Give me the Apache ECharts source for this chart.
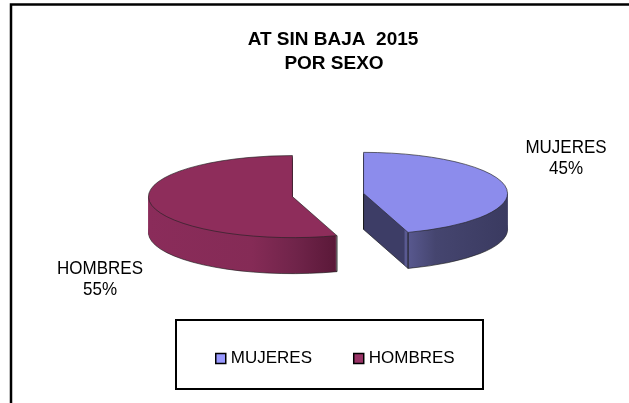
<!DOCTYPE html>
<html>
<head>
<meta charset="utf-8">
<script src="https://cdn.jsdelivr.net/npm/echarts@6/dist/echarts.min.js"></script>
<style>
html,body{margin:0;padding:0;background:#fff}
#main{width:629px;height:403px}
</style>
</head>
<body>
<div id="main"></div>
<script>
// datos
var categories = ['MUJERES', 'HOMBRES'];
var values = [45, 55];
var titleLines = ['AT SIN BAJA  2015', 'POR SEXO'];

// colores (cara superior, leyenda, lateral)
var topColors = ['#8c8cec', '#8e2d5b'];
var legendColors = ['#9999ff', '#993366'];
var sideStops = [
  [{offset: 0, color: '#3d3d66'}, {offset: 0.28, color: '#3d3d66'}, {offset: 0.29, color: '#5a5a92'},
   {offset: 0.5, color: '#45456f'}, {offset: 1, color: '#3a3a60'}],
  [{offset: 0, color: '#8a2c5a'}, {offset: 0.55, color: '#852b56'}, {offset: 0.78, color: '#70244a'},
   {offset: 1, color: '#5a1838'}]
];

var total = values.reduce(function (s, v) { return s + v; }, 0);
var pieCx = 328, pieCy = 195, radius = 144, tilt = 0.285, depth = 36, explode = 36;

function sliceAngles(i) {
  var before = 0;
  for (var j = 0; j < i; j++) before += values[j];
  var start = -Math.PI / 2 + before / total * 2 * Math.PI;
  return [start, start + values[i] / total * 2 * Math.PI];
}

function renderSlice(i) {
  return function (params, api) {
    var ang = sliceAngles(i);
    var mid = (ang[0] + ang[1]) / 2;
    var gx = pieCx + Math.cos(mid) * explode;
    var gy = pieCy + Math.sin(mid) * explode * tilt;
    var sides = [];
    for (var d = depth; d > 0; d--) {
      sides.push({
        type: 'sector',
        shape: {cx: 0, cy: d / tilt, r0: 0, r: radius, startAngle: ang[0], endAngle: ang[1], clockwise: true},
        style: {
          fill: {type: 'linear', x: 0, y: 0, x2: 1, y2: 0, colorStops: sideStops[i]},
          stroke: d === depth ? '#1a1a1a' : null,
          lineWidth: 1,
          strokeNoScale: true
        }
      });
    }
    var lines = [];
    var pts = [[0, 0]];
    ang.forEach(function (a) {
      if (Math.sin(a) > 0.05) pts.push([Math.cos(a) * radius, Math.sin(a) * radius * tilt]);
    });
    pts.forEach(function (p) {
      lines.push({
        type: 'line',
        shape: {x1: gx + p[0], y1: gy + p[1], x2: gx + p[0], y2: gy + p[1] + depth},
        style: {stroke: '#1a1a1a', lineWidth: 1}
      });
    });
    return {
      type: 'group',
      children: [
        {type: 'group', x: gx, y: gy, scaleY: tilt, children: sides},
        {type: 'group', children: lines},
        {type: 'group', x: gx, y: gy, scaleY: tilt, children: [{
          type: 'sector',
          shape: {cx: 0, cy: 0, r0: 0, r: radius, startAngle: ang[0], endAngle: ang[1], clockwise: true},
          style: {fill: topColors[i], stroke: '#222', lineWidth: 1, strokeNoScale: true}
        }]}
      ]
    };
  };
}

var chart = echarts.init(document.getElementById('main'));

function pct(i) {
  return Math.round(values[i] / total * 100) + '%';
}

var labelFont = 'Liberation Sans, Arial, sans-serif';

var option = {
  animation: false,
  backgroundColor: '#fff',
  legend: {
    data: categories,
    left: 210,
    top: 345,
    itemWidth: 10,
    itemHeight: 10,
    itemGap: 41,
    selectedMode: false,
    icon: 'rect',
    itemStyle: {borderColor: '#000', borderWidth: 1.5},
    textStyle: {color: '#000', fontSize: 17, fontFamily: labelFont}
  },
  series: categories.map(function (name, i) {
    return {
      type: 'custom',
      name: name,
      coordinateSystem: 'none',
      silent: true,
      itemStyle: {color: legendColors[i]},
      renderItem: renderSlice(i),
      data: [[values[i]]]
    };
  }),
  graphic: [
    {type: 'rect', shape: {x: 11, y: 4.5, width: 700, height: 500},
     style: {fill: null, stroke: '#000', lineWidth: 2.5}, silent: true},
    {type: 'rect', shape: {x: 176, y: 320, width: 307, height: 69},
     style: {fill: null, stroke: '#000', lineWidth: 2}, silent: true},
    {type: 'text', x: 333, y: 40, style: {text: titleLines[0], fontSize: 19, fontWeight: 'bold',
      fontFamily: labelFont, fill: '#000', textAlign: 'center', textVerticalAlign: 'middle'}},
    {type: 'text', x: 334, y: 64, style: {text: titleLines[1], fontSize: 19, fontWeight: 'bold',
      fontFamily: labelFont, fill: '#000', textAlign: 'center', textVerticalAlign: 'middle'}},
    {type: 'text', x: 566, y: 158, scaleY: 1.12, style: {text: categories[0] + '\n' + pct(0), fontSize: 17,
      lineHeight: 19, fontFamily: labelFont, fill: '#000', textAlign: 'center', textVerticalAlign: 'middle'}},
    {type: 'text', x: 100, y: 279, scaleY: 1.12, style: {text: categories[1] + '\n' + pct(1), fontSize: 17,
      lineHeight: 19, fontFamily: labelFont, fill: '#000', textAlign: 'center', textVerticalAlign: 'middle'}}
  ]
};

chart.setOption(option);
</script>
</body>
</html>
